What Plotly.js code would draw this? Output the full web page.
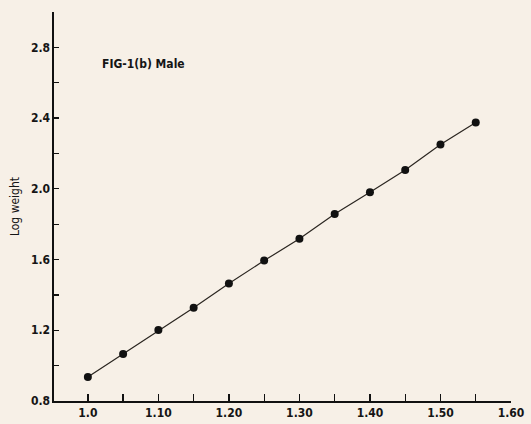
<!DOCTYPE html>
<html>
<head>
<meta charset="utf-8">
<script src="https://cdn.plot.ly/plotly-3.0.1.min.js"></script>
<style>html,body{margin:0;padding:0;background:#f7f0e7;}#chart{width:531px;height:424px;}</style>
</head>
<body>
<div id="chart"></div>
<script>
const heightRatio = [1.00, 1.05, 1.10, 1.15, 1.20, 1.25, 1.30, 1.35, 1.40, 1.45, 1.50, 1.55];
const logWeight = [0.936, 1.066, 1.201, 1.328, 1.465, 1.594, 1.717, 1.858, 1.980, 2.107, 2.251, 2.375];
const xTickVals = [1.0, 1.1, 1.2, 1.3, 1.4, 1.5, 1.6];
const xTickText = ["1.0", "1.10", "1.20", "1.30", "1.40", "1.50", "1.60"];
const yTickVals = [0.8, 1.2, 1.6, 2.0, 2.4, 2.8];
const yTickText = ["0.8", "1.2", "1.6", "2.0", "2.4", "2.8"];

const fam = "DejaVu Sans Condensed, Liberation Sans Narrow, sans-serif";
const tickFont = {family: fam, size: 12, color: "#151515", weight: "bold"};

const trace = {
  x: heightRatio, y: logWeight, type: "scatter", mode: "lines+markers",
  line: {color: "#2a2520", width: 1.2},
  marker: {color: "#111", size: 8, symbol: "circle"},
  showlegend: false
};

const layout = {
  width: 531, height: 424,
  margin: {l: 54, r: 20, t: 12, b: 23},
  paper_bgcolor: "#f7f0e7", plot_bgcolor: "#f7f0e7",
  font: {family: fam, size: 12, color: "#151515"},
  xaxis: {
    range: [0.952, 1.60], showgrid: false, zeroline: false,
    showline: true, linecolor: "#111", linewidth: 1.6,
    ticks: "inside", ticklen: 7, tickwidth: 1.3, tickcolor: "#111",
    tickvals: xTickVals, ticktext: xTickText,
    minor: {tickvals: [1.05, 1.15, 1.25, 1.35, 1.45, 1.55], ticks: "inside", ticklen: 7, tickwidth: 1.3, tickcolor: "#111"},
    tickfont: tickFont
  },
  yaxis: {
    range: [0.8, 3.0], showgrid: false, zeroline: false,
    showline: true, linecolor: "#111", linewidth: 1.6,
    ticks: "inside", ticklen: 5, tickwidth: 1.3, tickcolor: "#111",
    tickvals: yTickVals, ticktext: yTickText,
    minor: {tickvals: [1.0, 1.4, 1.8, 2.2, 2.6, 3.0], ticks: "inside", ticklen: 5, tickwidth: 1.3, tickcolor: "#111"},
    tickfont: tickFont,
    title: {text: "Log weight", font: {family: fam, size: 12, color: "#151515"}, standoff: 8}
  },
  annotations: [{
    text: "FIG-1(b) Male", xref: "paper", yref: "paper",
    x: (100 - 54) / 457, y: (401 - 64) / 389, xanchor: "left", yanchor: "middle",
    showarrow: false, font: {family: fam, size: 12, color: "#151515", weight: "bold"}
  }]
};

Plotly.newPlot("chart", [trace], layout, {displayModeBar: false, staticPlot: true});
</script>
</body>
</html>
